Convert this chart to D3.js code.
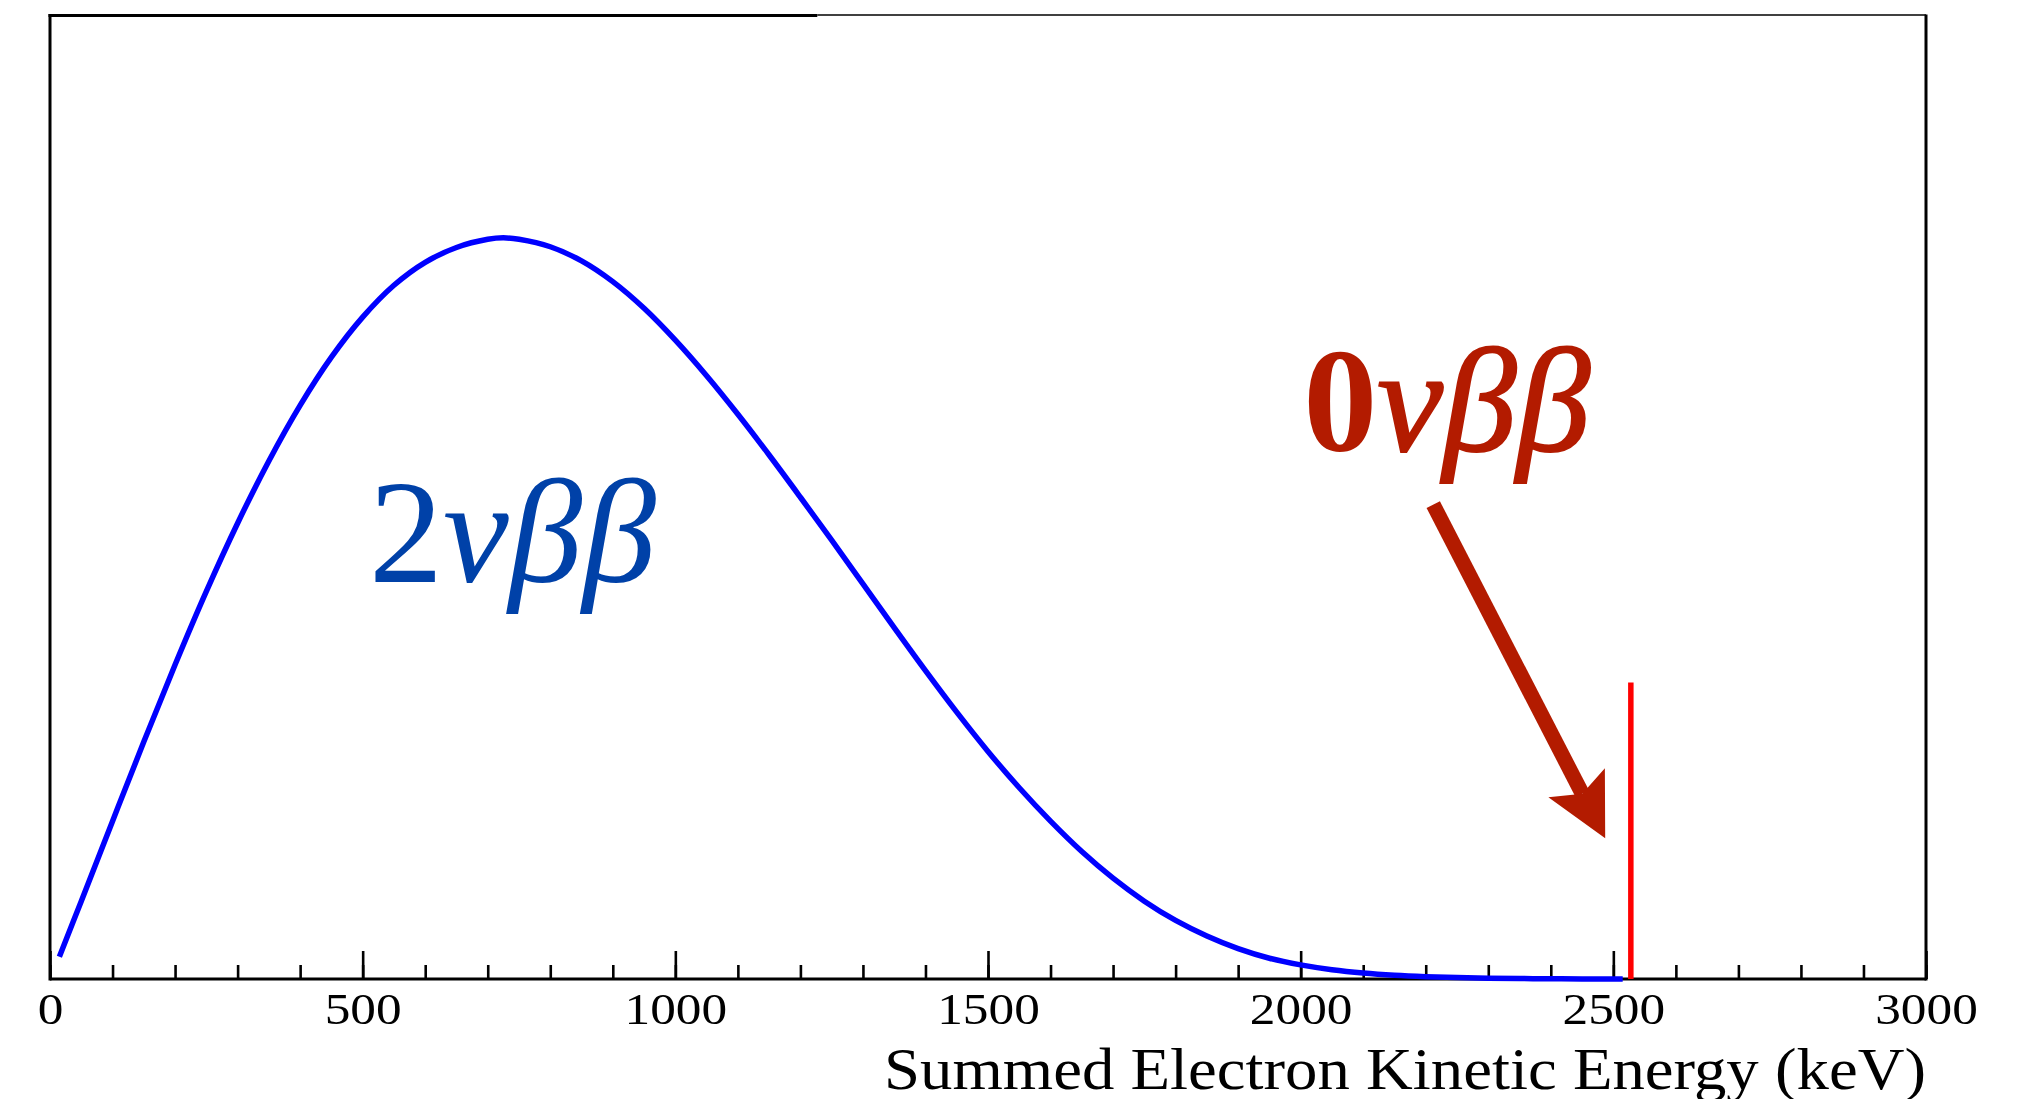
<!DOCTYPE html>
<html>
<head>
<meta charset="utf-8">
<script src="https://cdn.jsdelivr.net/npm/d3@7"></script>
<style>
  body { margin: 0; background: #fff; }
</style>
</head>
<body>
<div class="chart"></div>
<script>
// Data (keV, arbitrary units with peak = 1)
var energy = [15, 50, 100, 150, 200, 250, 300, 350, 400, 450, 500, 550, 600, 650, 700, 725,
  750, 800, 850, 900, 950, 1000, 1050, 1100, 1150, 1200, 1250, 1300, 1350, 1400, 1450, 1500,
  1550, 1600, 1650, 1700, 1750, 1800, 1850, 1900, 1950, 2000, 2050, 2100, 2150, 2200, 2250,
  2300, 2350, 2400, 2450, 2515];
var counts = [0.030, 0.105, 0.213, 0.320, 0.424, 0.523, 0.615, 0.699, 0.774, 0.839, 0.893, 0.936, 0.967, 0.987, 0.998, 1.000,
  0.998, 0.988, 0.969, 0.941, 0.905, 0.862, 0.814, 0.762, 0.707, 0.650, 0.592, 0.533, 0.474, 0.416, 0.360, 0.307,
  0.258, 0.213, 0.172, 0.136, 0.105, 0.079, 0.058, 0.041, 0.028, 0.019, 0.0125, 0.0080, 0.0050, 0.0031, 0.0019,
  0.0011, 0.0006, 0.0003, 0.0001, 0.0];

var majorTicks = [0, 500, 1000, 1500, 2000, 2500, 3000];
var tickLabels = ["0", "500", "1000", "1500", "2000", "2500", "3000"];

var qValue = 2528;       // 0vbb peak position
var qLineTop = 0.40;     // height of the red marker
var arrowFrom = [2212, 0.640];
var arrowTo = [2487, 0.190];
var label2v = { text: "2", greek: "νββ", e: 510, y: 0.536 };
var label0v = { text: "0", greek: "νββ", e: 2004, y: 0.713 };

var svgWidth = 2025;
var svgHeight = 1099;
var margin = { top: 15.5, right: 99, bottom: 120, left: 50 };
var width = svgWidth - margin.left - margin.right;
var height = svgHeight - margin.top - margin.bottom;

var svg = d3.select(".chart")
  .append("svg")
  .attr("width", svgWidth)
  .attr("height", svgHeight);

var chartGroup = svg.append("g")
  .attr("transform", `translate(${margin.left}, ${margin.top})`);

var x = d3.scaleLinear().domain([0, 3000]).range([0, width]);
var y = d3.scaleLinear().domain([0, 1.3]).range([height, 0]);

// minor ticks
chartGroup.append("g")
  .attr("transform", `translate(0, ${height})`)
  .call(d3.axisBottom(x).tickValues(d3.range(0, 3001, 100)).tickSize(-14).tickFormat(""))
  .call(g => g.select(".domain").remove())
  .call(g => g.selectAll("line").attr("stroke", "#000").attr("stroke-width", 2.6));

// major ticks + labels
var xAxis = chartGroup.append("g")
  .attr("transform", `translate(0, ${height})`)
  .call(d3.axisBottom(x).tickValues(majorTicks).tickSize(-28).tickPadding(0)
    .tickFormat((d, i) => tickLabels[i]))
  .call(g => g.select(".domain").remove());
xAxis.selectAll("line").attr("stroke", "#000").attr("stroke-width", 2.6);
xAxis.selectAll("text")
  .attr("y", 45)
  .attr("dy", null)
  .attr("fill", "#000")
  .attr("font-family", "'Liberation Serif', 'Times New Roman', serif")
  .attr("font-size", "45px")
  .attr("transform", "scale(1.14,1)");

// frame
var frame = chartGroup.append("g").attr("stroke", "#000").attr("fill", "none");
frame.append("line").attr("x1", 0).attr("x2", width).attr("y1", height).attr("y2", height).attr("stroke-width", 3);
frame.append("line").attr("x1", 0).attr("x2", 0).attr("y1", -1.5).attr("y2", height + 1.5).attr("stroke-width", 3);
frame.append("line").attr("x1", width).attr("x2", width).attr("y1", -1).attr("y2", height + 1.5).attr("stroke-width", 3);
frame.append("line").attr("x1", -1.5).attr("x2", width * 0.409).attr("y1", 0).attr("y2", 0).attr("stroke-width", 3);
frame.append("line").attr("x1", width * 0.409).attr("x2", width).attr("y1", -0.5).attr("y2", -0.5).attr("stroke-width", 1.6);

// 2vbb spectrum
var line = d3.line()
  .x((d, i) => x(energy[i]))
  .y(d => y(d))
  .curve(d3.curveCatmullRom.alpha(0.5));

chartGroup.append("path")
  .datum(counts)
  .attr("d", line)
  .attr("fill", "none")
  .attr("stroke", "#0000ff")
  .attr("stroke-width", 5.5);

// 0vbb marker
chartGroup.append("line")
  .attr("x1", x(qValue)).attr("x2", x(qValue))
  .attr("y1", y(qLineTop)).attr("y2", y(0))
  .attr("stroke", "#ff0000")
  .attr("stroke-width", 5.5);

// arrow
var red = "#b31b00";
var ax0 = x(arrowFrom[0]), ay0 = y(arrowFrom[1]);
var ax1 = x(arrowTo[0]), ay1 = y(arrowTo[1]);
var ang = Math.atan2(ay1 - ay0, ax1 - ax0);
var headLen = 70, headHalf = 27 * Math.PI / 180, notch = 50;
var nx = ax1 - notch * Math.cos(ang), ny = ay1 - notch * Math.sin(ang);
chartGroup.append("line")
  .attr("x1", ax0).attr("y1", ay0)
  .attr("x2", nx).attr("y2", ny)
  .attr("stroke", red)
  .attr("stroke-width", 15);
var b1 = [ax1 - headLen * Math.cos(ang - headHalf), ay1 - headLen * Math.sin(ang - headHalf)];
var b2 = [ax1 - headLen * Math.cos(ang + headHalf), ay1 - headLen * Math.sin(ang + headHalf)];
chartGroup.append("path")
  .attr("d", `M${ax1},${ay1}L${b1[0]},${b1[1]}L${nx},${ny}L${b2[0]},${b2[1]}Z`)
  .attr("fill", red);

// labels
var t2 = chartGroup.append("text")
  .attr("x", x(label2v.e)).attr("y", y(label2v.y))
  .attr("font-family", "'Liberation Serif', 'Times New Roman', serif")
  .attr("font-size", "148px")
  .attr("fill", "#0041a8");
t2.append("tspan").text(label2v.text);
t2.append("tspan").attr("font-style", "italic").text(label2v.greek);

var t0 = chartGroup.append("text")
  .attr("x", x(label0v.e)).attr("y", y(label0v.y))
  .attr("font-family", "'Liberation Serif', 'Times New Roman', serif")
  .attr("font-size", "148px")
  .attr("fill", red);
t0.append("tspan").attr("font-weight", "bold").text(label0v.text);
t0.append("tspan").attr("font-style", "italic").attr("stroke", red).attr("stroke-width", 2).text(label0v.greek);

// axis title
chartGroup.append("text")
  .attr("x", width)
  .attr("y", height + 110)
  .attr("text-anchor", "end")
  .attr("font-family", "'Liberation Serif', 'Times New Roman', serif")
  .attr("font-size", "60px")
  .attr("textLength", 1042)
  .attr("lengthAdjust", "spacingAndGlyphs")
  .text("Summed Electron Kinetic Energy (keV)");
</script>
</body>
</html>
